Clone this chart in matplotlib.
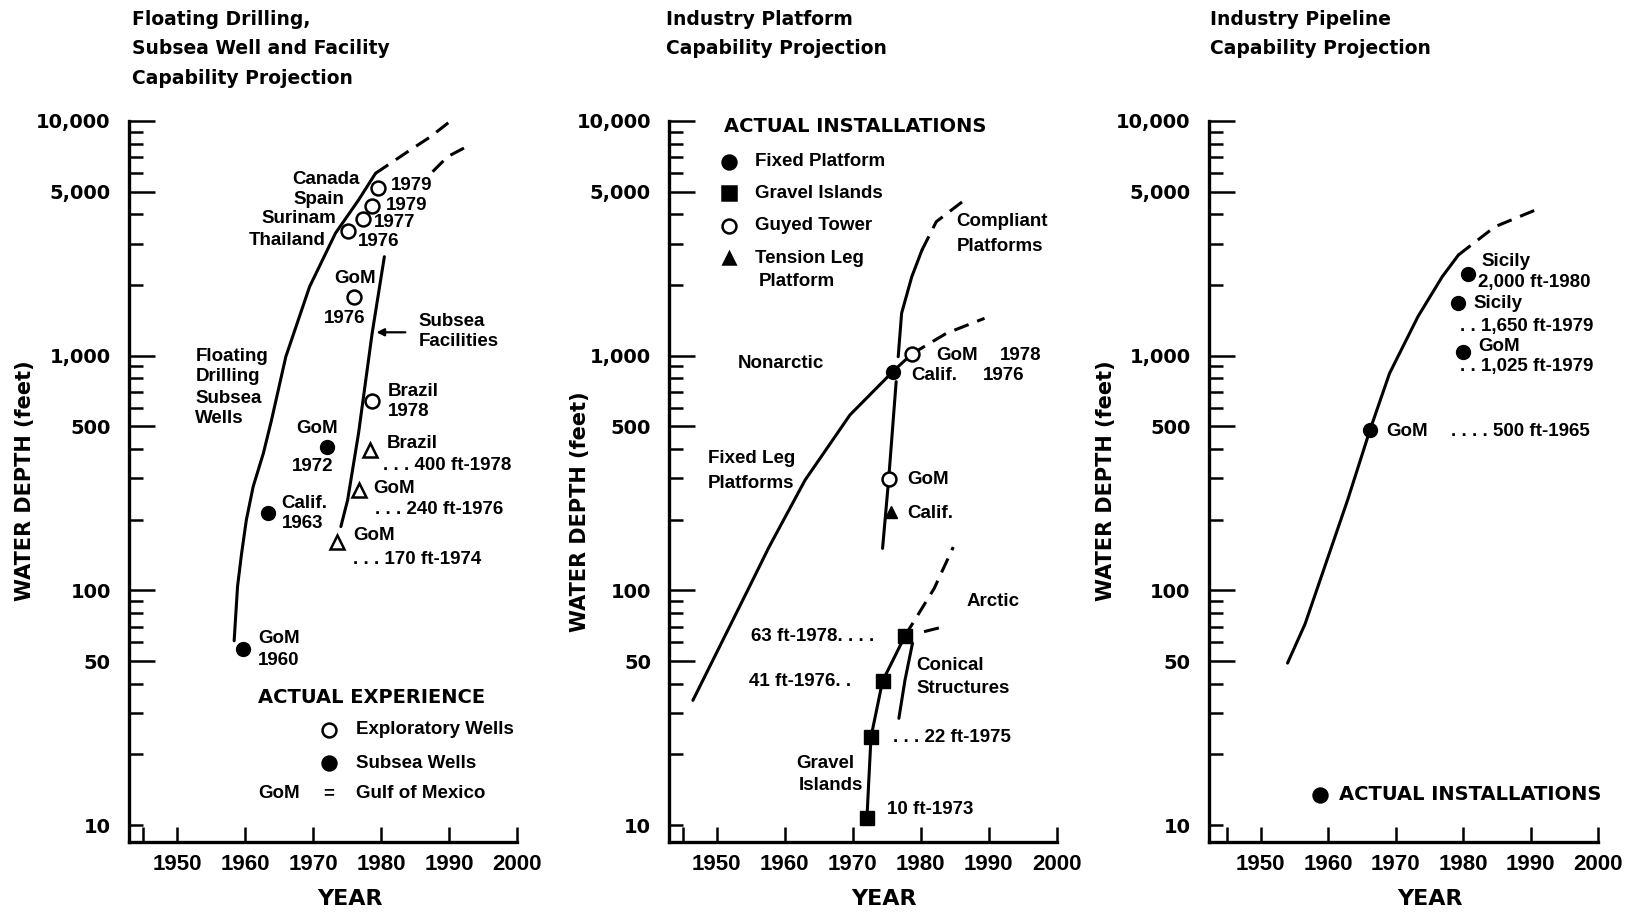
import matplotlib
matplotlib.use("Agg")
import matplotlib.pyplot as plt
from matplotlib.lines import Line2D
from matplotlib.ticker import NullFormatter

plt.rcParams["font.family"] = ["DejaVu Sans"]

# ===================== data =====================
# panel 1: floating drilling / subsea wells / subsea facilities
drill_year = [1958.4, 1958.9, 1959.5, 1960.2, 1961.2, 1962.7, 1963.9, 1966.0, 1969.5, 1973.3, 1976.7, 1979.2]
drill_depth = [61, 104, 144, 200, 277, 384, 532, 990, 1968, 3323, 4606, 5985]
drill_proj_year = [1979.2, 1984.3, 1987.3, 1990.1]
drill_proj_depth = [5985, 7522, 8571, 9930]
subsea_fac_year = [1974.1, 1975.1, 1976.7, 1978.7, 1980.5]
subsea_fac_depth = [187, 243, 467, 1245, 2641]
subsea_proj_year = [1987.6, 1989.8, 1992.6]
subsea_proj_depth = [6081, 7046, 7775]
expl_year = [1979.6, 1978.7, 1977.3, 1975.2, 1976.1, 1978.7]      # Canada, Spain, Surinam, Thailand, GoM, Brazil
expl_depth = [5170, 4356, 3823, 3409, 1773, 641]
subsea_well_year = [1972.0, 1963.4, 1959.7]                       # GoM, Calif., GoM
subsea_well_depth = [410, 213, 56]
facility_year = [1978.4, 1976.8, 1973.6]                          # Brazil, GoM, GoM
facility_depth = [396, 268, 161]

# panel 2: platforms
fixed_leg_year = [1946.5, 1954.4, 1957.7, 1963.0, 1969.6, 1975.9, 1978.7]
fixed_leg_depth = [34, 98, 153, 295, 559, 855, 1017]
nonarctic_proj_year = [1978.7, 1983.8, 1989.4]
nonarctic_proj_depth = [1017, 1246, 1443]
compliant_year = [1976.7, 1977.2, 1978.7, 1980.2]
compliant_depth = [990, 1516, 2171, 2820]
compliant_proj_year = [1980.2, 1982.3, 1987.1]
compliant_proj_depth = [2820, 3723, 4758]
guyed_line_year = [1974.4, 1975.3, 1976.4]
guyed_line_depth = [151, 298, 775]
gravel_line_year = [1972.1, 1972.4, 1972.7, 1974.4, 1975.7, 1977.7]
gravel_line_depth = [10.7, 16, 23.7, 41.1, 48.9, 64]
arctic_proj_year = [1977.7, 1982.0, 1984.8]
arctic_proj_depth = [64, 102, 153]
conical_year = [1976.8, 1977.7, 1978.8]
conical_depth = [28.5, 41.5, 59.5]
conical_proj_year = [1980.5, 1982.8]
conical_proj_depth = [66.7, 69.3]
fixed_pf_year, fixed_pf_depth = [1975.9], [855]
gravel_year = [1972.1, 1972.7, 1974.4, 1977.7]
gravel_depth = [10.7, 23.7, 41.1, 64]
guyed_year, guyed_depth = [1978.7, 1975.3], [1017, 298]
tlp_year, tlp_depth = [1975.7], [216]

# panel 3: pipelines
pipe_year = [1954.0, 1956.6, 1962.9, 1966.2, 1969.1, 1973.3, 1976.9, 1979.3]
pipe_depth = [49, 72, 243, 482, 841, 1467, 2171, 2687]
pipe_proj_year = [1979.3, 1984.7, 1990.7]
pipe_proj_depth = [2687, 3544, 4176]
pipe_inst_year = [1980.7, 1979.2, 1979.9, 1966.2]
pipe_inst_depth = [2229, 1673, 1040, 482]

ytick_vals = [10, 50, 100, 500, 1000, 5000, 10000]
ytick_labels = ["10", "50", "100", "500", "1,000", "5,000", "10,000"]
yminor_vals = [20, 30, 40, 60, 70, 80, 90, 200, 300, 400, 600, 700, 800, 900,
               2000, 3000, 4000, 6000, 7000, 8000, 9000]
xtick_vals = [1950, 1960, 1970, 1980, 1990, 2000]
xtick_labels = ["1950", "1960", "1970", "1980", "1990", "2000"]
# =====================================================================

W, H = 1632, 914
fig = plt.figure(figsize=(W / 100, H / 100), dpi=100)

BOT = (H - 841.5) / H
HGT = (841.5 - 121) / H
LW = 2.2
DASH = (0, (5, 3))


def make_axes(left_px, right_px, x0):
    ax = fig.add_axes([left_px / W, BOT, (right_px - left_px) / W, HGT])
    ax.set_yscale("log")
    ax.set_xlim(x0, 2000)
    ax.set_ylim(8.51, 10000)
    for s in ["top", "right"]:
        ax.spines[s].set_visible(False)
    for s in ["left", "bottom"]:
        ax.spines[s].set_linewidth(2.4)
    ax.set_yticks(ytick_vals, ytick_labels, fontsize=14, fontweight="bold", family="DejaVu Sans")
    ax.set_yticks(yminor_vals, minor=True)
    ax.yaxis.set_minor_formatter(NullFormatter())
    ax.set_xticks(xtick_vals, xtick_labels, fontsize=16, fontweight="bold", family="Liberation Sans")
    ax.set_xticks([1945], minor=True)
    ax.tick_params(axis="y", which="major", direction="in", length=19, width=1.8, pad=13)
    ax.tick_params(axis="y", which="minor", direction="in", length=10, width=1.8)
    ax.tick_params(axis="x", which="both", direction="in", length=11, width=1.8, pad=9)
    ax.yaxis.get_major_ticks()[0].tick1line.set_markersize(10)
    return ax


def note(x, y, s, ha="left", size=13.5, family="Liberation Sans", **kw):
    fig.text(x / W, 1 - y / H, s, ha=ha, va="center", fontsize=size,
             fontweight="bold", family=family, **kw)


def head(x, y, s):
    note(x, y, s, size=14, family="DejaVu Sans")


def key(x, y, marker, face="black", size=10):
    fig.add_artist(Line2D([x / W], [1 - y / H], transform=fig.transFigure, marker=marker,
                          markersize=size, markerfacecolor=face, markeredgecolor="black",
                          markeredgewidth=1.8, linestyle="none"))


# ---------------- panel 1 ----------------
ax1 = make_axes(128.8, 516.9, 1942.9)
ax1.plot(drill_year, drill_depth, color="black", lw=LW, solid_capstyle="round")
ax1.plot(drill_proj_year, drill_proj_depth, color="black", lw=LW, linestyle=DASH)
ax1.plot(subsea_fac_year, subsea_fac_depth, color="black", lw=LW, solid_capstyle="round")
ax1.plot(subsea_proj_year, subsea_proj_depth, color="black", lw=LW, linestyle=DASH)
ax1.plot(expl_year, expl_depth, "o", ms=10, mfc="white", mec="black", mew=1.8)
ax1.plot(subsea_well_year, subsea_well_depth, "o", ms=10, color="black")
ax1.plot(facility_year, facility_depth, "^", ms=10, mfc="white", mec="black", mew=1.8)

for s, x, y in [("Canada", 359.9, 180), ("Spain", 344.4, 199),
                ("Surinam", 335.8, 218.3), ("Thailand", 325.4, 240.7)]:
    note(x, y, s, ha="right")
for s, x, y in [("1979", 390.9, 185), ("1979", 385.7, 205), ("1977", 373.7, 222.7),
                ("1976", 358.2, 241.7), ("Subsea", 418.4, 321.7), ("Facilities", 418.4, 341.7),
                ("Floating", 195.3, 356.7), ("Drilling", 195.3, 376.7), ("Subsea", 195.3, 398.3),
                ("Wells", 195.3, 418.3), ("GoM", 296.2, 428.3), ("1972", 292, 466.7),
                ("Calif.", 281.7, 503.3), ("1963", 281.7, 524), ("GoM", 258.3, 638.3),
                ("1960", 258.3, 660.7), ("Brazil", 387.4, 391.7), ("1978", 387.4, 411.7),
                ("Brazil", 386.4, 443.3), (". . . 400 ft-1978", 383, 465.7),
                ("GoM", 373, 488.3), (". . . 240 ft-1976", 375.4, 510),
                ("GoM", 353, 536), (". . . 170 ft-1974", 353, 559.3),
                ("Exploratory Wells", 356.4, 730), ("Subsea Wells", 356.4, 763.3),
                ("GoM", 258.3, 794), ("Gulf of Mexico", 356.4, 794)]:
    note(x, y, s)
note(354.7, 278.3, "GoM", ha="center")
note(344.4, 318.3, "1976", ha="center")
note(328.9, 794, "=", ha="center")
head(258.3, 697.3, "ACTUAL EXPERIENCE")
key(328.9, 730, "o", face="white")
key(328.9, 763.3, "o")
fig.add_artist(plt.Annotation("", xy=(373.7 / W, 1 - 332.3 / H), xytext=(408.1 / W, 1 - 332.3 / H),
                              xycoords="figure fraction",
                              arrowprops=dict(arrowstyle="-|>", lw=1.6, color="black",
                                              mutation_scale=11)))

# ---------------- panel 2 ----------------
ax2 = make_axes(669.1, 1056.6, 1943.0)
for xs, ys in [(fixed_leg_year, fixed_leg_depth), (compliant_year, compliant_depth),
               (guyed_line_year, guyed_line_depth), (gravel_line_year, gravel_line_depth),
               (conical_year, conical_depth)]:
    ax2.plot(xs, ys, color="black", lw=LW, solid_capstyle="round")
for xs, ys in [(nonarctic_proj_year, nonarctic_proj_depth), (compliant_proj_year, compliant_proj_depth),
               (arctic_proj_year, arctic_proj_depth), (conical_proj_year, conical_proj_depth)]:
    ax2.plot(xs, ys, color="black", lw=LW, linestyle=DASH)
ax2.plot(fixed_pf_year, fixed_pf_depth, "o", ms=10, color="black")
ax2.plot(gravel_year, gravel_depth, "s", ms=10, color="black")
ax2.plot(guyed_year, guyed_depth, "o", ms=10, mfc="white", mec="black", mew=1.8)
ax2.plot(tlp_year, tlp_depth, "^", ms=9, color="black")

head(724.2, 126.7, "ACTUAL INSTALLATIONS")
key(728.7, 161.7, "o")
key(728.7, 193.3, "s")
key(728.7, 226, "o", face="white")
key(728.7, 258.3, "^", size=9)
for s, x, y in [("Fixed Platform", 755.2, 161.7), ("Gravel Islands", 755.2, 193.3),
                ("Guyed Tower", 755.2, 226), ("Tension Leg", 755.2, 258.3),
                ("Platform", 758.7, 281.7), ("Compliant", 956.7, 221.7),
                ("Platforms", 956.7, 246.7), ("Nonarctic", 738, 363.3),
                ("GoM", 936, 355), ("1978", 1000, 355), ("Calif.", 911.3, 375),
                ("1976", 982.5, 375), ("Fixed Leg", 708.1, 458.3), ("Platforms", 708.1, 483.3),
                ("GoM", 906.8, 480), ("Calif.", 906.8, 513), ("Arctic", 967, 601.7),
                ("63 ft-1978. . . .", 750.8, 636.7), ("41 ft-1976. .", 749, 681),
                ("Conical", 916.4, 665), ("Structures", 916.4, 688.3),
                (". . . 22 ft-1975", 893, 737.3), ("Gravel", 796.6, 763.3),
                ("Islands", 798.3, 785), ("10 ft-1973", 887.1, 810)]:
    note(x, y, s)

# ---------------- panel 3 ----------------
ax3 = make_axes(1208.5, 1598.3, 1942.3)
ax3.plot(pipe_year, pipe_depth, color="black", lw=LW, solid_capstyle="round")
ax3.plot(pipe_proj_year, pipe_proj_depth, color="black", lw=LW, linestyle=DASH)
ax3.plot(pipe_inst_year, pipe_inst_depth, "o", ms=10, color="black")
for s, x, y in [("Sicily", 1481.3, 261.7), ("2,000 ft-1980", 1477.8, 282.7),
                ("Sicily", 1473.6, 304), (". . 1,650 ft-1979", 1459.5, 326),
                ("GoM", 1478.5, 346.7), (". . 1,025 ft-1979", 1459.5, 366.7),
                ("GoM", 1386.3, 431.7), (". . . . 500 ft-1965", 1451.4, 431.7)]:
    note(x, y, s)
key(1320.4, 795, "o")
head(1338.7, 795, "ACTUAL INSTALLATIONS")

# ---------------- titles and axis labels ----------------
titles = [["Floating Drilling,", "Subsea Well and Facility", "Capability Projection"],
          ["Industry Platform", "Capability Projection"],
          ["Industry Pipeline", "Capability Projection"]]
for lines, x in zip(titles, [131.7, 666, 1210.5]):
    for i, t in enumerate(lines):
        fig.text(x / W, 1 - (19.5 + 29.3 * i) / H, t, ha="left", va="center",
                 fontsize=13.5, fontweight="bold")
for x, y in [(25, 481), (580, 512), (1106, 481)]:
    fig.text(x / W, 1 - y / H, "WATER DEPTH (feet)", rotation=90, ha="center",
             va="center", fontsize=15, fontweight="bold")
for x in [349.6, 883.5, 1430.3]:
    fig.text(x / W, 1 - 899 / H, "YEAR", ha="center", va="center", fontsize=16,
             fontweight="bold")

fig.savefig("out.png", dpi=100)
